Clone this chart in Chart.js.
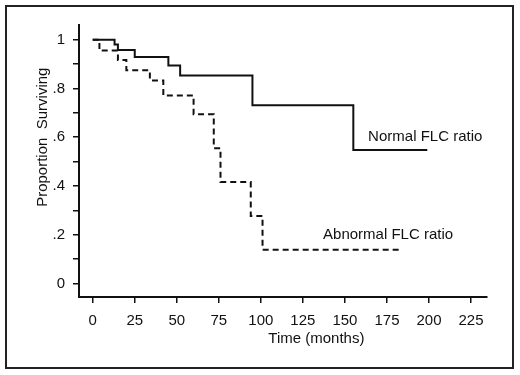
<!DOCTYPE html>
<html><head><meta charset="utf-8">
<script src="https://cdn.jsdelivr.net/npm/chart.js@4/dist/chart.umd.min.js"></script>
<style>html,body{margin:0;padding:0;background:#fff}canvas{display:block}</style>
</head><body>
<canvas id="c" width="520" height="375"></canvas>
<script>
// Kaplan-Meier data
const normalTime = [0, 13, 15, 25, 45, 52, 95, 155, 199];
const normalSurv = [1, 0.98, 0.958, 0.929, 0.894, 0.853, 0.731, 0.548, 0.548];
const abnormalTime = [0, 4, 15, 20, 34, 42, 60, 72, 76, 94, 101, 182];
const abnormalSurv = [1, 0.955, 0.917, 0.875, 0.833, 0.771, 0.694, 0.555, 0.416, 0.277, 0.139, 0.139];
const xTickValues = [0, 25, 50, 75, 100, 125, 150, 175, 200, 225];
const yMajorTicks = [0, 0.2, 0.4, 0.6, 0.8, 1];
const yTickLabels = ['0', '.2', '.4', '.6', '.8', '1'];
const yMinorTicks = [0.1, 0.3, 0.5, 0.7, 0.9];
const seriesLabels = ['Normal FLC ratio', 'Abnormal FLC ratio'];
const xTitle = 'Time (months)';
const yTitle = 'Proportion  Surviving';

const FONT = "'Liberation Sans', Arial, Helvetica, sans-serif";
Chart.defaults.font.family = FONT;
Chart.defaults.font.size = 15;
Chart.defaults.color = '#111';

const toPts = (t, s) => t.map((v, i) => ({x: v, y: s[i]}));

const decor = {
  id: 'decor',
  afterDraw(chart) {
    const ctx = chart.ctx;
    const xs = chart.scales.x, ys = chart.scales.y;
    ctx.save();
    // outer frame
    ctx.strokeStyle = '#222';
    ctx.lineWidth = 2;
    ctx.strokeRect(6, 6, 507, 362);
    ctx.fillStyle = '#111';
    ctx.font = '15px ' + FONT;
    // series labels placed in data space
    ctx.textBaseline = 'middle';
    ctx.textAlign = 'left';
    ctx.fillText(seriesLabels[0], xs.getPixelForValue(163.8), ys.getPixelForValue(0.602));
    ctx.fillText(seriesLabels[1], xs.getPixelForValue(137), ys.getPixelForValue(0.2));
    // axis titles
    ctx.textAlign = 'center';
    ctx.fillText(xTitle, xs.getPixelForValue(133), 339);
    ctx.translate(43, ys.getPixelForValue(0.6));
    ctx.rotate(-Math.PI / 2);
    ctx.fillText(yTitle, 0, 0);
    ctx.restore();
  }
};

new Chart(document.getElementById('c'), {
  type: 'line',
  data: {
    datasets: [
      {
        label: seriesLabels[0],
        data: toPts(normalTime, normalSurv),
        stepped: 'before',
        borderColor: '#111',
        borderWidth: 2,
        pointRadius: 0,
        fill: false
      },
      {
        label: seriesLabels[1],
        data: toPts(abnormalTime, abnormalSurv),
        stepped: 'before',
        borderColor: '#111',
        borderWidth: 2,
        borderDash: [6, 4],
        pointRadius: 0,
        fill: false
      }
    ]
  },
  options: {
    responsive: false,
    animation: false,
    devicePixelRatio: 1,
    layout: {padding: {left: 0, top: 25, right: 33, bottom: 0}},
    plugins: {legend: {display: false}, tooltip: {enabled: false}},
    scales: {
      x: {
        type: 'linear',
        min: -8.15,
        max: 234.5,
        afterBuildTicks: s => { s.ticks = xTickValues.map(v => ({value: v})); },
        afterFit: s => { s.height = 78; },
        ticks: {color: '#111', padding: 9, maxRotation: 0, autoSkip: false, font: {size: 15}},
        grid: {drawOnChartArea: false, drawTicks: true, tickLength: 6, color: '#111', lineWidth: 1.5},
        border: {display: true, color: '#111', width: 2}
      },
      y: {
        type: 'linear',
        min: -0.055,
        max: 1.06,
        afterBuildTicks: s => {
          s.ticks = yMajorTicks.concat(yMinorTicks).sort((a, b) => a - b).map(v => ({value: v}));
        },
        afterFit: s => { s.width = 79; },
        ticks: {
          color: '#111', padding: 8, autoSkip: false, font: {size: 15},
          callback: v => {
            const i = yMajorTicks.findIndex(m => Math.abs(m - v) < 1e-6);
            return i >= 0 ? yTickLabels[i] : '';
          }
        },
        grid: {drawOnChartArea: false, drawTicks: true, tickLength: 6, color: '#111', lineWidth: 1.5},
        border: {display: true, color: '#111', width: 2}
      }
    }
  },
  plugins: [decor]
});
</script>
</body></html>
